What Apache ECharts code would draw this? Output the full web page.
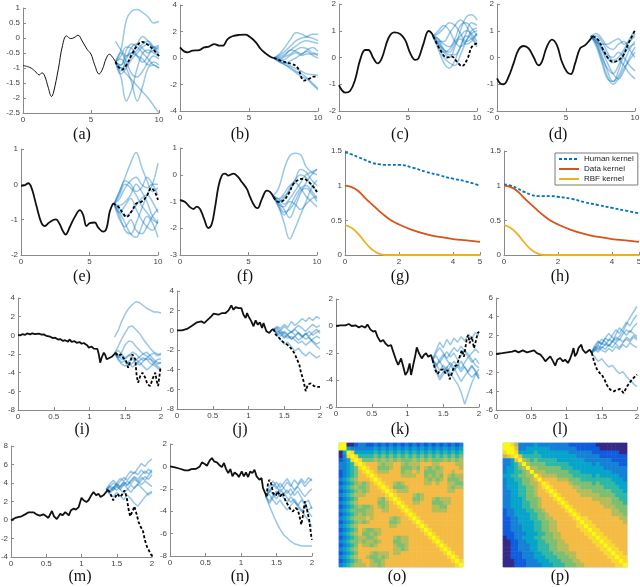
<!DOCTYPE html>
<html>
<head>
<meta charset="utf-8">
<script src="https://cdn.jsdelivr.net/npm/echarts@6/dist/echarts.min.js"></script>
<style>
  html, body { margin: 0; padding: 0; background: #fff; }
  #chart { width: 640px; height: 587px; }
</style>
</head>
<body>
<div id="chart"></div>
<script>
// ---- sample x grids ----
const futA = [6.8, 7.2, 7.6, 8.0, 8.4, 8.8, 9.2, 9.6, 10];
const futI = [1.35, 1.4, 1.45, 1.5, 1.55, 1.6, 1.65, 1.7, 1.75, 1.8, 1.85, 1.9, 1.95, 2.0];

// ---- (a) ----
const aHistory = [[0,-0.92],[0.5,-0.98],[0.85,-1.09],[1.2,-1.23],[1.4,-1.16],[1.6,-1.27],[1.85,-1.64],[2.1,-1.95],[2.25,-1.8],[2.6,-1.03],[2.9,-0.26],[3.2,0.07],[3.5,-0.02],[3.75,0.01],[4.05,0.09],[4.35,-0.1],[4.7,-0.37],[5.0,-0.54],[5.25,-0.87],[5.6,-1.2],[5.85,-1.03],[6.1,-0.7],[6.35,-0.54],[6.6,-0.65],[6.8,-0.79]];
const aTruth = [[6.8,-0.79],[7.0,-0.95],[7.3,-1.05],[7.6,-0.9],[8.0,-0.55],[8.4,-0.25],[8.75,-0.13],[9.1,-0.2],[9.5,-0.35],[10,-0.6]];
const aSamples = [
  [-0.8,-0.4,0.6,0.9,0.95,0.85,0.7,0.5,0.55],
  [-0.8,-1.0,-1.2,-1.4,-1.6,-1.8,-2.0,-2.25,-2.5],
  [-0.8,-1.3,-2.1,-1.7,-1.0,-0.5,-0.4,-0.5,-0.6],
  [-0.8,-1.1,-0.7,-0.3,-0.2,-0.35,-0.5,-0.4,-0.3],
  [-0.8,-0.9,-0.4,-0.2,-0.3,-0.5,-0.7,-0.9,-1.0],
  [-0.8,-0.6,-0.3,-0.35,-0.6,-0.8,-0.6,-0.3,-0.4],
  [-0.8,-1.2,-1.0,-0.7,-0.5,-0.3,-0.2,-0.35,-0.6],
  [-0.8,-0.5,-0.8,-1.2,-1.3,-1.1,-0.8,-0.6,-0.7],
  [-0.8,-1.0,-0.9,-0.6,-0.4,-0.2,-0.1,-0.3,-0.5],
  [-0.1,-0.4,-0.6,-0.5,-0.2,0.05,-0.1,-0.3,-0.25],
  [-0.8,-0.7,-1.0,-1.5,-2.1,-1.6,-1.0,-0.9,-1.0],
  [-0.8,-0.9,-0.6,-0.5,-0.6,-0.7,-0.9,-0.8,-0.9]
];

// ---- (b) ----
const bHistory = [[0,0.8],[0.3,0.5],[0.55,0.43],[0.9,0.55],[1.4,0.6],[1.75,0.8],[2.1,0.86],[2.5,1.05],[2.85,0.93],[3.1,0.93],[3.45,1.43],[3.8,1.64],[4.3,1.74],[4.75,1.76],[5.1,1.56],[5.5,1.18],[5.85,0.68],[6.2,0.35],[6.55,0.1],[6.8,0.0]];
const bTruth = [[6.8,0],[7.4,-0.25],[8.1,-0.45],[8.5,-0.7],[9.0,-1.7],[9.3,-1.6],[9.7,-1.4],[10,-1.45]];
const bSamples = [
  [0,0.3,0.8,1.4,1.9,1.8,1.6,1.5,1.3],
  [0,0.2,0.5,0.9,1.3,1.5,1.6,1.8,1.8],
  [0,0.1,0.3,0.6,0.9,1.2,1.3,1.2,1.1],
  [0,-0.1,0.1,0.3,0.6,0.8,0.7,0.4,0.3],
  [0,-0.2,-0.1,0.2,0.4,0.2,0.3,0.3,0.2],
  [0,-0.3,-0.4,-0.2,0.0,0.3,0.5,0.2,0.0],
  [0,-0.3,-0.5,-0.8,-1.1,-1.4,-1.6,-2.0,-2.4],
  [0,-0.2,-0.5,-0.7,-1.0,-1.2,-1.5,-1.9,-2.3],
  [0,0.0,0.2,0.6,0.5,0.3,0.6,0.8,0.5],
  [0,-0.1,-0.3,-0.6,-0.8,-1.0,-1.2,-1.25,-1.3]
];

// ---- (c) ----
const cHistory = [[0,-1.03],[0.19,-1.21],[0.44,-1.31],[0.8,-1.25],[1.16,-0.84],[1.53,-0.09],[1.89,0.28],[2.13,0.28],[2.49,-0.03],[2.78,-0.22],[3.1,-0.03],[3.58,0.72],[4.0,0.94],[4.43,0.88],[4.8,0.65],[5.16,0.16],[5.52,-0.09],[5.76,-0.03],[6.13,0.53],[6.49,0.99],[6.68,0.93],[6.85,0.78]];
const cTruth = [[6.85,0.78],[7.34,0.28],[7.82,0.0],[8.18,0.03],[8.55,-0.16],[8.91,-0.32],[9.27,-0.09],[9.64,0.41],[10,0.53]];
const cSamples = [
  [0.8,0.6,0.2,0.0,0.4,1.0,1.5,1.6,1.4],
  [0.8,0.9,1.1,1.3,1.2,0.9,0.6,0.7,0.9],
  [0.8,0.4,0.0,-0.2,-0.3,0.1,0.6,1.0,1.1],
  [0.8,0.7,0.5,0.4,0.7,1.2,1.3,1.1,0.8],
  [0.8,0.5,0.2,0.3,0.6,0.8,1.0,0.9,0.6],
  [0.8,1.0,1.2,1.0,0.6,0.4,0.6,0.9,1.0],
  [0.8,0.5,0.3,0.1,0.1,0.4,0.9,1.3,1.2],
  [0.8,0.3,-0.2,-0.4,-0.1,0.4,0.8,0.7,0.4],
  [0.8,0.6,0.6,0.9,1.2,1.4,1.2,0.8,0.5],
  [0.8,0.7,0.3,0.2,0.5,0.7,0.5,0.6,0.9]
];

// ---- (d) ----
const dHistory = [[0,-0.78],[0.24,-0.97],[0.48,-1.0],[0.84,-0.72],[1.2,-0.22],[1.57,0.3],[1.93,0.43],[2.29,0.34],[2.65,0.02],[3.01,-0.29],[3.25,-0.16],[3.61,0.4],[3.98,0.67],[4.34,0.46],[4.7,-0.16],[5.06,-0.53],[5.35,-0.62],[5.66,-0.22],[6.02,0.34],[6.39,0.46],[6.75,0.67],[6.94,0.8]];
const dTruth = [[6.94,0.8],[7.35,0.65],[7.71,0.27],[8.07,-0.04],[8.43,-0.16],[8.8,-0.1],[9.16,0.09],[9.52,0.52],[10,1.02]];
const dSamples = [
  [0.8,0.6,0.1,-0.5,-0.9,-0.7,-0.2,0.3,0.6],
  [0.8,0.7,0.3,-0.2,-0.6,-0.8,-0.5,0.0,0.4],
  [0.8,0.5,0.0,-0.4,-0.6,-0.3,0.2,0.6,0.9],
  [0.8,0.8,0.6,0.2,-0.1,0.0,0.3,0.7,1.0],
  [0.8,0.9,0.7,0.4,0.3,0.5,0.6,0.3,0.0],
  [0.8,0.5,-0.1,-0.7,-1.0,-0.8,-0.4,-0.1,0.2],
  [0.8,0.6,0.3,0.0,-0.2,-0.1,-0.3,-0.6,-0.8],
  [0.8,0.7,0.5,0.5,0.6,0.7,0.5,0.6,0.8],
  [0.8,0.4,-0.2,-0.8,-0.9,-0.5,0.1,0.4,0.5],
  [0.8,0.6,0.4,0.1,0.0,0.2,0.0,-0.3,-0.5]
];

// ---- (e) ----
const eHistory = [[0,-0.04],[0.29,-0.02],[0.53,0.03],[0.78,-0.11],[1.14,-0.63],[1.5,-1.1],[1.75,-1.18],[1.99,-1.1],[2.35,-1.01],[2.55,-0.99],[2.79,-1.1],[3.08,-1.34],[3.25,-1.42],[3.57,-1.2],[3.93,-0.92],[4.3,-0.73],[4.54,-0.87],[4.78,-1.18],[5.02,-1.1],[5.39,-1.08],[5.63,-1.22],[6.0,-1.34],[6.24,-1.25],[6.48,-0.77],[6.72,-0.54]];
const eTruth = [[6.72,-0.54],[7.09,-0.63],[7.45,-0.82],[7.7,-0.92],[8.06,-0.77],[8.42,-0.54],[8.79,-0.49],[9.15,-0.35],[9.51,-0.11],[9.76,-0.21],[10,-0.44]];
const eSamples = [
  [-0.55,-0.2,0.2,0.6,0.9,0.5,0.1,-0.2,-0.1],
  [-0.55,-0.8,-1.1,-1.4,-1.5,-1.2,-0.9,-1.1,-1.5],
  [-0.55,-0.3,0.0,-0.1,-0.3,-0.6,-0.8,-1.0,-1.1],
  [-0.55,-0.9,-1.3,-1.4,-1.1,-0.7,-0.3,0.0,0.6],
  [-0.55,-0.4,-0.1,0.1,0.2,0.0,-0.1,0.0,0.0],
  [-0.55,-0.7,-0.9,-0.8,-0.6,-0.4,-0.3,-0.5,-0.8],
  [-0.55,-0.6,-0.5,-0.3,0.0,-0.2,-0.5,-0.9,-1.1],
  [-0.55,-1.0,-1.2,-1.0,-1.3,-1.4,-1.2,-0.9,-0.7],
  [-0.55,-0.2,0.1,0.0,-0.2,-0.1,0.2,0.0,-0.3],
  [-0.55,-0.8,-0.6,-0.4,-0.7,-1.0,-1.2,-1.3,-1.0]
];

// ---- (f) ----
const fHistory = [[0,-0.94],[0.37,-1.02],[0.73,-1.21],[0.98,-1.28],[1.22,-1.19],[1.46,-1.28],[1.76,-1.65],[2.07,-1.99],[2.32,-1.84],[2.56,-1.21],[2.8,-0.46],[3.05,-0.03],[3.29,0.04],[3.54,-0.03],[3.9,0.04],[4.2,-0.06],[4.51,-0.27],[4.88,-0.53],[5.12,-0.84],[5.49,-1.21],[5.66,-1.25],[5.98,-0.9],[6.34,-0.59],[6.59,-0.65],[6.83,-0.84]];
const fTruth = [[6.83,-0.84],[7.2,-1.02],[7.56,-0.96],[7.93,-0.71],[8.29,-0.34],[8.66,-0.19],[9.02,-0.15],[9.39,-0.27],[9.76,-0.46],[10,-0.65]];
const fSamples = [
  [-0.8,-0.5,0.2,0.7,0.8,0.75,0.3,0.1,0.0],
  [-0.8,-1.2,-1.8,-2.4,-2.0,-1.5,-1.0,-0.5,-0.2],
  [-0.8,-1.0,-1.3,-1.6,-1.2,-0.7,-0.3,0.0,0.2],
  [-0.8,-0.9,-1.1,-0.9,-0.6,-0.3,0.0,0.1,0.2],
  [-0.8,-1.1,-1.4,-1.3,-1.0,-0.6,-0.5,-0.7,-1.0],
  [-0.8,-1.0,-0.9,-0.5,-0.2,0.0,-0.1,-0.4,-0.6],
  [-0.8,-1.2,-1.5,-1.2,-0.8,-0.5,-0.4,-0.6,-0.9],
  [-0.8,-0.9,-0.7,-0.4,-0.3,-0.5,-0.8,-1.0,-1.2],
  [-0.8,-1.1,-1.2,-1.0,-1.1,-1.3,-1.1,-0.9,-0.8],
  [-0.8,-1.0,-0.8,-0.6,-0.2,0.2,0.1,-0.2,-0.4]
];

// ---- (g), (h) kernels ----
const lags = [0, 0.25, 0.5, 0.75, 1, 1.25, 1.5, 1.75, 2, 2.5, 3, 3.5, 4, 4.5, 5];
const humanG = [1.48, 1.45, 1.41, 1.37, 1.33, 1.31, 1.3, 1.3, 1.3, 1.26, 1.2, 1.15, 1.1, 1.06, 1.0];
const humanH = [1.02, 1.0, 0.96, 0.91, 0.87, 0.85, 0.85, 0.85, 0.84, 0.81, 0.76, 0.72, 0.68, 0.64, 0.6];
const dataKernel = [1.0, 0.98, 0.92, 0.82, 0.73, 0.64, 0.56, 0.49, 0.44, 0.36, 0.3, 0.26, 0.23, 0.21, 0.19];
const rbfKernel = [0.43, 0.39, 0.3, 0.18, 0.08, 0.02, 0, 0, 0, 0, 0, 0, 0, 0, 0];

// ---- (i) ----
const iHistory = [[0,0.04],[0.03,0],[0.06,0.12],[0.1,0.05],[0.13,0.2],[0.17,0.1],[0.2,0.22],[0.24,0.12],[0.29,0.18],[0.33,0.08],[0.36,0.1],[0.4,-0.07],[0.45,-0.15],[0.49,-0.3],[0.52,-0.25],[0.56,-0.45],[0.59,-0.4],[0.63,-0.6],[0.66,-0.52],[0.7,-0.68],[0.72,-0.43],[0.75,-0.7],[0.79,-0.62],[0.82,-0.8],[0.86,-0.72],[0.89,-0.9],[0.92,-0.82],[0.94,-1.0],[0.97,-1.1],[0.99,-1.32],[1.03,-1.2],[1.06,-1.43],[1.08,-1.6],[1.11,-1.45],[1.13,-2.04],[1.15,-2.93],[1.17,-2.4],[1.2,-1.86],[1.22,-2.1],[1.24,-2.57],[1.27,-2.45],[1.29,-2.64],[1.31,-2.3],[1.33,-2.2],[1.37,-1.86]];
const iTruth = [[1.37,-1.86],[1.4,-2.2],[1.44,-2.04],[1.47,-2.4],[1.51,-2.75],[1.54,-3.46],[1.58,-2.57],[1.6,-2.04],[1.64,-2.57],[1.66,-4.36],[1.68,-5.07],[1.71,-4.36],[1.74,-4.0],[1.78,-4.54],[1.81,-5.25],[1.85,-5.43],[1.88,-4.71],[1.92,-4.0],[1.94,-4.89],[1.96,-5.43],[1.99,-3.64],[2,-3.46]];
const iSamples = [
  [-0.2,0.5,1.5,2.3,2.9,3.3,3.6,3.5,3.2,2.9,2.7,2.5,2.5,2.4],
  [-1.9,-1.2,-0.4,0.3,0.9,1.0,0.6,0.2,-0.4,-0.9,-1.4,-1.8,-2.0,-2.1],
  [-1.9,-2.3,-1.8,-1.0,-0.6,-0.7,-1.2,-1.6,-2.0,-1.8,-2.2,-2.6,-2.9,-3.0],
  [-1.9,-2.6,-3.1,-3.3,-2.8,-2.5,-2.9,-3.2,-2.8,-2.5,-2.6,-3.0,-3.3,-3.6],
  [-1.9,-2.5,-2.9,-2.7,-3.0,-3.4,-3.1,-2.7,-2.4,-2.6,-3.0,-3.2,-3.5,-3.8],
  [-1.9,-2.2,-2.6,-2.4,-2.1,-2.3,-2.6,-2.3,-2.0,-2.2,-2.5,-2.8,-3.1,-2.9],
  [-1.9,-2.4,-2.2,-2.7,-3.2,-3.0,-2.6,-2.9,-3.3,-3.7,-3.4,-3.0,-2.6,-2.5],
  [-1.9,-1.6,-2.0,-2.5,-2.2,-1.8,-2.0,-2.4,-2.7,-2.4,-2.1,-1.9,-2.2,-1.9]
];

// ---- (j) ----
const jHistory = [[0,0],[0.07,0],[0.14,0.14],[0.21,0.47],[0.28,0.81],[0.34,0.91],[0.38,0.74],[0.42,1.01],[0.48,1.42],[0.51,1.69],[0.58,1.59],[0.63,1.76],[0.68,1.76],[0.72,2.03],[0.76,2.53],[0.79,2.09],[0.82,2.36],[0.86,2.26],[0.9,2.26],[0.93,1.59],[0.96,1.25],[0.98,1.76],[1.0,1.42],[1.04,0.91],[1.07,0.41],[1.1,1.01],[1.13,0.57],[1.16,0.81],[1.19,0.24],[1.21,0.74],[1.25,-0.1],[1.29,-0.27],[1.32,0],[1.35,0.14]];
const jTruth = [[1.35,0.14],[1.38,-0.44],[1.41,-0.61],[1.45,-0.95],[1.49,-1.22],[1.52,-1.35],[1.57,-1.62],[1.6,-1.89],[1.64,-2.3],[1.67,-2.8],[1.71,-3.48],[1.73,-4.16],[1.77,-5.17],[1.8,-6.18],[1.83,-5.5],[1.87,-5.4],[1.92,-5.68],[1.96,-5.74],[2,-5.74]];
const jSamples = [
  [0.1,0.4,0.2,0.6,0.3,0.9,0.5,0.8,1.2,0.9,1.3,1.0,1.4,1.2],
  [0.1,-0.3,-0.6,-0.2,-0.5,-0.9,-0.6,-0.3,-0.7,-0.4,-0.1,-0.5,-0.2,0.0],
  [0.1,-0.5,-1.0,-1.4,-1.2,-1.7,-2.1,-1.8,-2.3,-2.6,-2.2,-2.5,-2.8,-2.6],
  [0.1,0.2,-0.3,-0.1,-0.4,-0.2,0.1,-0.3,-0.6,-0.9,-0.7,-1.1,-1.4,-1.2],
  [0.1,-0.2,0.0,-0.4,-0.8,-0.6,-1.0,-1.3,-1.1,-1.5,-1.2,-0.9,-0.6,-0.8],
  [0.1,0.3,0.0,0.4,0.1,-0.2,0.2,0.5,0.2,-0.1,0.3,0.6,0.3,0.5],
  [0.1,-0.4,-0.2,-0.7,-0.4,-0.1,-0.5,-0.2,-0.6,-0.3,-0.8,-1.2,-1.6,-1.9],
  [0.1,0.0,-0.4,-0.8,-0.5,-0.9,-0.6,-1.0,-0.7,-0.3,-0.6,-0.2,0.1,-0.3]
];

// ---- (k) ----
const kHistory = [[0,0],[0.06,0.05],[0.13,0.05],[0.18,0.15],[0.22,0],[0.27,0.05],[0.32,-0.1],[0.36,0],[0.41,-0.12],[0.44,0.12],[0.48,-0.25],[0.52,-0.42],[0.55,-0.35],[0.58,-0.79],[0.62,-1.16],[0.66,-1.04],[0.69,-1.28],[0.73,-1.48],[0.77,-1.41],[0.8,-1.9],[0.84,-2.52],[0.87,-2.89],[0.91,-2.4],[0.94,-3.0],[0.97,-3.63],[1.0,-3.38],[1.03,-2.77],[1.05,-3.63],[1.07,-3.14],[1.11,-2.15],[1.13,-1.58],[1.16,-2.02],[1.2,-2.4],[1.23,-2.15],[1.26,-2.02],[1.29,-2.27],[1.33,-2.15],[1.35,-2.52]];
const kTruth = [[1.35,-2.52],[1.39,-3.26],[1.42,-3.56],[1.46,-3.26],[1.5,-3.21],[1.53,-3.51],[1.56,-3.26],[1.59,-3.95],[1.62,-3.51],[1.65,-3.01],[1.69,-2.89],[1.73,-2.27],[1.76,-1.78],[1.79,-2.27],[1.83,-0.91],[1.85,-0.67],[1.87,-1.28],[1.9,-0.79],[1.93,-1.65],[1.96,-1.04],[1.98,-0.54],[2,-0.42]];
const kSamples = [
  [-2.5,-1.8,-1.2,-1.6,-1.0,-1.4,-0.9,-1.2,-0.8,-1.1,-0.6,-0.9,-0.5,-0.7],
  [-2.5,-3.2,-3.8,-3.4,-3.0,-3.5,-3.9,-4.3,-4.9,-5.8,-5.0,-4.2,-3.6,-3.2],
  [-2.5,-2.2,-2.7,-2.3,-1.9,-2.3,-2.0,-2.5,-2.2,-1.8,-2.1,-2.5,-2.9,-3.1],
  [-2.5,-3.0,-2.6,-3.1,-3.5,-3.0,-2.6,-3.0,-3.4,-3.0,-3.5,-3.8,-3.5,-3.9],
  [-2.5,-2.0,-1.6,-2.0,-2.4,-2.0,-1.6,-1.9,-1.5,-1.9,-2.3,-2.0,-1.7,-2.0],
  [-2.5,-2.8,-3.3,-2.9,-3.3,-3.7,-3.3,-2.8,-3.2,-2.7,-2.3,-2.7,-2.4,-2.8],
  [-2.5,-2.9,-2.5,-2.1,-2.5,-2.9,-3.3,-3.0,-2.6,-3.1,-3.4,-3.0,-3.3,-3.7],
  [-2.5,-3.4,-4.0,-3.6,-3.1,-2.7,-3.1,-3.6,-4.1,-3.7,-3.3,-2.9,-3.4,-3.9]
];

// ---- (l) ----
const lHistory = [[0,0],[0.09,0.1],[0.16,0.18],[0.23,0.25],[0.27,0.36],[0.32,0.18],[0.38,0.39],[0.44,0.18],[0.49,0.29],[0.54,0.39],[0.58,0.1],[0.63,-0.07],[0.67,-0.43],[0.7,-0.79],[0.73,-0.54],[0.77,-0.25],[0.81,-0.79],[0.84,-1.25],[0.87,-0.61],[0.91,-0.43],[0.95,-0.79],[0.98,-0.61],[1.02,-0.96],[1.05,-0.54],[1.08,0.11],[1.1,0.64],[1.12,-0.25],[1.15,0.11],[1.17,0.64],[1.21,1.0],[1.23,0.46],[1.27,0.11],[1.29,0.29],[1.33,0.46],[1.36,0.11]];
const lTruth = [[1.36,0.11],[1.39,-0.79],[1.43,-1.61],[1.47,-2.04],[1.5,-2.21],[1.54,-2.75],[1.57,-3.29],[1.62,-3.82],[1.67,-4.0],[1.72,-3.82],[1.76,-3.75],[1.81,-4.18],[1.86,-3.46],[1.91,-2.93],[1.95,-2.57],[2,-2.21]];
const lSamples = [
  [0.1,0.8,0.4,1.2,0.9,1.6,1.3,2.1,2.8,2.4,3.2,3.9,4.5,5.1],
  [0.1,0.6,1.3,1.0,1.7,1.4,2.0,2.6,2.2,2.8,3.4,3.0,3.7,4.2],
  [0.1,-0.3,-0.8,-0.5,-1.0,-1.4,-1.2,-1.7,-2.1,-1.9,-2.4,-2.8,-3.2,-3.5],
  [0.1,0.5,0.2,0.8,0.5,1.0,0.7,1.2,1.6,1.3,1.8,1.5,2.0,1.7],
  [0.1,0.9,1.4,1.1,1.7,2.2,1.8,1.4,1.9,2.4,2.0,2.5,2.2,1.9],
  [0.1,0.3,0.7,0.4,0.2,0.6,0.3,0.8,0.5,1.0,0.7,1.2,0.9,0.7],
  [0.1,0.6,1.0,1.6,1.3,0.9,1.4,1.1,0.7,1.2,1.6,1.3,1.8,1.5],
  [0.1,0.4,0.9,0.6,1.1,0.8,1.3,1.8,1.5,2.1,2.6,2.3,2.9,3.3]
];

// ---- (m) ----
const mHistory = [[0,-0.04],[0.06,0.22],[0.1,0.32],[0.15,0.4],[0.2,0.61],[0.25,0.83],[0.32,0.83],[0.36,0.61],[0.41,0.47],[0.46,0.61],[0.5,0.4],[0.53,0.22],[0.58,0.97],[0.61,0.4],[0.65,0.11],[0.7,0.68],[0.73,0.5],[0.77,0.86],[0.82,0.5],[0.85,1.05],[0.89,1.23],[0.92,1.12],[0.96,1.4],[0.98,1.59],[1.0,2.41],[1.03,2.13],[1.07,1.95],[1.1,2.13],[1.13,2.56],[1.17,3.03],[1.21,2.67],[1.24,2.85],[1.27,2.49],[1.31,2.67],[1.35,3.03],[1.38,3.28]];
const mTruth = [[1.38,3.28],[1.42,2.67],[1.45,2.13],[1.48,2.49],[1.51,2.85],[1.54,2.49],[1.57,2.67],[1.61,3.2],[1.64,2.49],[1.67,1.05],[1.69,0.4],[1.73,1.05],[1.75,1.48],[1.78,0.68],[1.81,-0.22],[1.84,-0.76],[1.87,-1.12],[1.9,-2.2],[1.93,-2.92],[1.95,-3.1],[1.98,-3.64],[2,-3.93]];
const mSamples = [
  [3.3,3.7,3.4,4.0,4.5,4.2,4.8,5.3,5.0,5.6,6.1,5.8,6.3,6.6],
  [3.3,3.0,3.5,3.9,3.6,4.1,3.8,4.3,4.7,4.4,4.9,5.3,5.0,5.4],
  [3.3,2.8,2.5,3.0,2.6,2.2,2.7,2.3,1.8,1.5,2.0,2.5,2.9,3.1],
  [3.3,3.6,4.0,3.7,3.3,3.8,4.2,3.9,4.4,4.1,4.6,4.3,4.8,5.2],
  [3.3,3.9,4.3,3.9,3.5,3.9,3.4,3.0,3.5,3.9,3.5,3.1,2.7,3.0],
  [3.3,3.1,3.6,3.2,3.7,4.1,3.7,4.2,4.6,4.2,3.8,4.2,3.9,3.6],
  [3.3,3.5,3.2,3.6,3.3,2.9,3.3,3.8,3.4,3.9,4.3,4.7,4.4,4.9],
  [3.3,2.9,3.3,3.7,4.2,4.6,4.3,4.8,5.2,4.9,5.4,5.0,5.5,5.2]
];

// ---- (n) ----
const nHistory = [[0,0],[0.07,-0.09],[0.14,-0.21],[0.21,-0.36],[0.26,-0.36],[0.3,-0.24],[0.37,-0.21],[0.42,0],[0.45,0.36],[0.49,0.21],[0.52,0.06],[0.56,0.54],[0.59,0.74],[0.62,0.45],[0.66,0.36],[0.69,0.15],[0.73,-0.06],[0.76,0.3],[0.79,-0.24],[0.82,-0.6],[0.85,-0.24],[0.88,-0.89],[0.91,-0.54],[0.95,-0.74],[0.97,-0.95],[1.01,-0.45],[1.04,-0.89],[1.07,-0.54],[1.1,-0.95],[1.13,-0.45],[1.16,-0.6],[1.19,-0.3],[1.22,-0.89],[1.26,-1.19],[1.29,-1.04],[1.31,-1.93],[1.33,-2.23],[1.36,-2.68]];
const nTruth = [[1.36,-2.68],[1.38,-1.49],[1.4,-1.19],[1.43,-1.64],[1.45,-2.38],[1.49,-2.62],[1.52,-2.23],[1.55,-2.68],[1.59,-2.38],[1.63,-3.13],[1.66,-3.42],[1.7,-3.87],[1.73,-4.02],[1.77,-3.72],[1.8,-3.87],[1.83,-4.61],[1.85,-5.21],[1.87,-4.46],[1.9,-3.13],[1.93,-3.87],[1.96,-4.76],[1.99,-6.25],[2,-6.55]];
const nSamples = [
  [-2.7,-3.5,-4.3,-5.0,-5.6,-6.1,-6.4,-6.7,-6.9,-7.0,-7.1,-7.1,-7.1,-7.1],
  [-2.7,-2.2,-1.6,-2.0,-1.5,-1.9,-1.4,-1.8,-1.2,-1.6,-1.1,-1.5,-1.0,-1.3],
  [-2.7,-2.1,-2.5,-2.9,-2.4,-2.8,-3.2,-2.7,-3.1,-3.5,-3.0,-3.4,-3.9,-3.6],
  [-2.7,-1.8,-1.3,-1.8,-2.3,-1.9,-2.4,-2.0,-2.6,-2.2,-2.8,-3.3,-3.0,-3.8],
  [-2.7,-3.1,-2.6,-2.2,-2.7,-2.3,-2.8,-3.2,-2.9,-3.4,-3.9,-4.4,-4.8,-5.4],
  [-2.7,-2.3,-1.8,-1.4,-1.9,-1.5,-1.1,-1.6,-2.1,-1.7,-1.3,-1.8,-1.4,-1.1],
  [-2.7,-3.3,-2.8,-2.4,-2.0,-2.5,-2.1,-2.6,-2.2,-1.8,-2.3,-2.7,-2.3,-2.0],
  [-2.7,-2.5,-3.0,-3.4,-3.0,-3.5,-3.9,-3.5,-3.1,-3.6,-4.0,-3.6,-4.1,-4.5]
];

// ---- (o), (p) covariance matrices: lower triangle, one level digit (0-9) per cell ----
const oRows = [
  "9","99","039","0289","12389","223489","2234589","12345789","123457789","2345677789",
  "12345656789","234565567789","1234565677789","23456667777789","123457777765789",
  "2345677777556789","12345655676567789","234555566776677789","1234565667777777789",
  "23456667677776567789","123456567777755677789","2345677777777667777789",
  "12345765566777777777789","234567556567777777777789","1234566556777765667777789",
  "23455656656777556677777789","123457665677776556777777789","2345677777777766567777777789",
  "12345777656667667777777777789","234567765565677777777777777789",
  "1234567765567777777777777777789","23456667665677777777777777777789"
];
const pRows = [
  "9","99","899","6789","22379","223469","2334569","23344569","334455669","2334455679",
  "23334556679","233344556789","2233445567789","22334455677789","223334555677789",
  "2233344556777789","22333445567777789","122333445567777789","1223333445567777789",
  "11223334455667777789","112233334455667777789","1122233344556677777889",
  "11222333445566777777889","111222333445566777777889","0112233344555667777777889",
  "00112233344555667777777889","001122233444556667777777889","0011222334445566677777777889",
  "00111222334445556667777777889","001112223334445556677777777889",
  "0001112223334445556677777777889","00011122223334445556677777777889"
];
const parula = ['#352a87','#0f5cdd','#1481d6','#06a4ca','#2eb7a4','#7abf74','#b5bd5a','#f4bb45','#f7d830','#f9fb0e'];

const panelLabels = ['(a)','(b)','(c)','(d)','(e)','(f)','(g)','(h)','(i)','(j)','(k)','(l)','(m)','(n)','(o)','(p)'];

// ---- build ----
const option = {
  animation: false,
  textStyle: { fontFamily: 'Liberation Sans' },
  grid: [], xAxis: [], yAxis: [], series: [], graphic: []
};

const axisGray = '#8a8a8a';
function axisStyle() {
  return {
    axisLine: { show: true, onZero: false, lineStyle: { color: axisGray, width: 1 } },
    axisTick: { show: true, inside: true, length: 3, lineStyle: { color: axisGray } },
    axisLabel: { fontSize: 8, color: '#444', margin: 3 },
    splitLine: { show: false }
  };
}
const zip = (xs, ys) => xs.map((x, i) => [x, ys[i]]);

function addAxes(p) {
  const gi = option.grid.length;
  option.grid.push({ left: p.left, top: p.top, width: p.width, height: p.height, outerBoundsMode: 'none' });
  option.xAxis.push(Object.assign({ type: 'value', gridIndex: gi, min: p.x[0], max: p.x[1], interval: p.x[2] }, axisStyle()));
  option.yAxis.push(Object.assign({ type: 'value', gridIndex: gi, min: p.y[0], max: p.y[1], interval: p.y[2] }, axisStyle()));
  return gi;
}

function addForecast(p) {
  const gi = addAxes(p);
  const smooth = p.smooth || false;
  p.samples.forEach(s => option.series.push({
    type: 'line', xAxisIndex: gi, yAxisIndex: gi, data: zip(p.sampleX, s),
    symbol: 'none', smooth: smooth, silent: true, z: 2,
    lineStyle: { color: '#0072BD', width: 1.5, opacity: 0.4 }
  }));
  option.series.push({
    type: 'line', xAxisIndex: gi, yAxisIndex: gi, data: p.truth,
    symbol: 'none', smooth: smooth, silent: true, z: 3,
    lineStyle: { color: '#000', width: 1.8, type: [3, 2] }
  });
  option.series.push({
    type: 'line', xAxisIndex: gi, yAxisIndex: gi, data: p.history,
    symbol: 'none', smooth: smooth, silent: true, z: 4,
    lineStyle: { color: '#111', width: p.histWidth || 1.8 }
  });
}

function addKernels(p, human) {
  const gi = addAxes(p);
  const mk = (name, ys, color, type) => ({
    type: 'line', name: name, xAxisIndex: gi, yAxisIndex: gi, data: zip(lags, ys),
    symbol: 'none', smooth: true, silent: true,
    itemStyle: { color: color },
    lineStyle: { color: color, width: 1.8, type: type }
  });
  option.series.push(mk('Human kernel', human, '#0072BD', [3, 2]));
  option.series.push(mk('Data kernel', dataKernel, '#D95319', 'solid'));
  option.series.push(mk('RBF kernel', rbfKernel, '#EDB120', 'solid'));
}

const heatIdx = [];
function addHeatmap(rows, left, top, size) {
  const n = rows.length;
  const gi = option.grid.length;
  option.grid.push({ left: left, top: top, width: size, height: size, show: true, borderColor: '#b9c6da', borderWidth: 1, outerBoundsMode: 'none' });
  const cats = rows.map((r, i) => i);
  option.xAxis.push({ type: 'category', gridIndex: gi, data: cats, show: false });
  option.yAxis.push({ type: 'category', gridIndex: gi, data: cats, show: false, inverse: true });
  const cell = (i, j) => { const r = rows[i]; return +(r[j] !== undefined ? r[j] : r[r.length - 1]); };
  const data = [];
  for (let i = 0; i < n; i++) {
    for (let j = 0; j < n; j++) {
      data.push([j, i, j <= i ? cell(i, j) : cell(j, i)]);
    }
  }
  heatIdx.push(option.series.length);
  option.series.push({ type: 'heatmap', xAxisIndex: gi, yAxisIndex: gi, data: data, silent: true });
}

addForecast({ left: 23, top: 8, width: 136, height: 105, x: [0, 10, 5], y: [-2.5, 1, 0.5], history: aHistory, truth: aTruth, samples: aSamples, sampleX: futA, smooth: 0.4, histWidth: 1 });
addForecast({ left: 180, top: 5, width: 138, height: 106, x: [0, 10, 5], y: [-4, 4, 2], history: bHistory, truth: bTruth, samples: bSamples, sampleX: futA, smooth: 0.4 });
addForecast({ left: 339, top: 4, width: 138, height: 107, x: [0, 10, 5], y: [-2, 2, 1], history: cHistory, truth: cTruth, samples: cSamples, sampleX: futA, smooth: 0.4 });
addForecast({ left: 497, top: 4, width: 138, height: 107, x: [0, 10, 5], y: [-2, 2, 1], history: dHistory, truth: dTruth, samples: dSamples, sampleX: futA, smooth: 0.4 });
addForecast({ left: 21, top: 149, width: 137, height: 106, x: [0, 10, 5], y: [-2, 1, 1], history: eHistory, truth: eTruth, samples: eSamples, sampleX: futA, smooth: 0.4 });
addForecast({ left: 180, top: 148, width: 137, height: 107, x: [0, 10, 5], y: [-3, 1, 1], history: fHistory, truth: fTruth, samples: fSamples, sampleX: futA, smooth: 0.4 });
addKernels({ left: 345, top: 151, width: 135, height: 104, x: [0, 5, 2], y: [0, 1.5, 0.5] }, humanG);
addKernels({ left: 504, top: 151, width: 135, height: 104, x: [0, 5, 2], y: [0, 1.5, 0.5] }, humanH);
addForecast({ left: 18, top: 298, width: 143, height: 112, x: [0, 2, 0.5], y: [-8, 4, 2], history: iHistory, truth: iTruth, samples: iSamples, sampleX: futI });
addForecast({ left: 177, top: 291, width: 143, height: 118, x: [0, 2, 0.5], y: [-8, 4, 2], history: jHistory, truth: jTruth, samples: jSamples, sampleX: futI });
addForecast({ left: 336, top: 299, width: 143, height: 108, x: [0, 2, 0.5], y: [-6, 2, 2], history: kHistory, truth: kTruth, samples: kSamples, sampleX: futI });
addForecast({ left: 496, top: 298, width: 141, height: 112, x: [0, 2, 0.5], y: [-6, 6, 2], history: lHistory, truth: lTruth, samples: lSamples, sampleX: futI });
addForecast({ left: 11, top: 446, width: 141, height: 111, x: [0, 2, 0.5], y: [-4, 8, 2], history: mHistory, truth: mTruth, samples: mSamples, sampleX: futI });
addForecast({ left: 170, top: 444, width: 142, height: 112, x: [0, 2, 0.5], y: [-8, 2, 2], history: nHistory, truth: nTruth, samples: nSamples, sampleX: futI });
addHeatmap(oRows, 339, 443, 124);
addHeatmap(pRows, 503, 443, 124);

option.visualMap = {
  type: 'continuous', show: false, min: 0, max: 9, dimension: 2,
  seriesIndex: heatIdx, inRange: { color: parula }
};

option.legend = {
  data: ['Human kernel', 'Data kernel', 'RBF kernel'],
  left: 555, top: 153, orient: 'vertical', selectedMode: false,
  itemWidth: 20, itemHeight: 6, itemGap: 2, padding: [2, 4, 2, 3],
  borderColor: '#7a7a7a', borderWidth: 1, backgroundColor: '#fff',
  itemStyle: { opacity: 0 },
  textStyle: { fontSize: 8, color: '#222' }
};

// panel letters under each plot
const labelPos = [[82,135],[240,135],[400,135],[558,135],[82,277],[245,277],[400,277],[560,277],
                  [82,430],[240,430],[400,430],[560,430],[80,577],[240,577],[397,577],[560,577]];
panelLabels.forEach((t, i) => option.graphic.push({
  type: 'text', x: labelPos[i][0], y: labelPos[i][1], silent: true,
  style: { text: t, font: '16px "Liberation Serif"', fill: '#111', align: 'center', verticalAlign: 'middle', textAlign: 'center', textVerticalAlign: 'middle' }
}));

const chart = echarts.init(document.getElementById('chart'));
chart.setOption(option);
</script>
</body>
</html>
